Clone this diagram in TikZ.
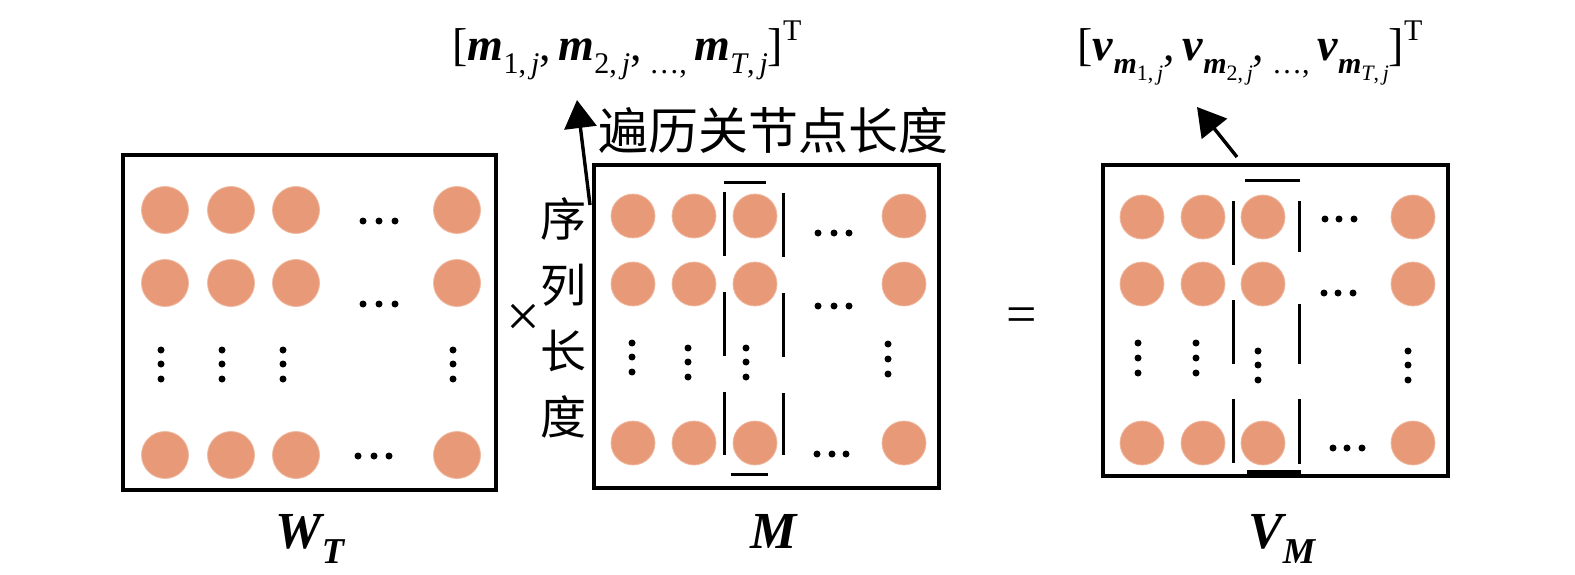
\documentclass[tikz,border=0pt]{standalone}
\usepackage{fontspec}
\setmainfont{Liberation Serif}
\newfontfamily\cjk{Noto Sans CJK SC}
\usetikzlibrary{arrows.meta}
\definecolor{salmon}{RGB}{232,154,120}
\definecolor{salmonedge}{RGB}{238,185,160}
\tikzset{
  ball/.style={circle, fill=salmon, draw=salmonedge, line width=0.8pt, inner sep=0pt, minimum size=#1},
  ball/.default=44pt,
  pip/.style={circle, fill=black, inner sep=0pt, minimum size=7pt},
  frame/.style={draw=black, line width=3.4pt},
  brk/.style={line width=3pt},
  arr/.style={line width=3.4pt, -{Triangle[width=32pt,length=28pt]}},
  bi/.style={font=\fontsize{52}{60}\selectfont\bfseries\itshape},
}
\newcommand{\bm}[1]{\textbf{\textit{#1}}}
\newcommand{\sub}[1]{\raisebox{-0.28em}{\fontsize{30}{30}\selectfont #1}}
\newcommand{\subsub}[1]{\raisebox{-0.22em}{\fontsize{22}{22}\selectfont #1}}
\begin{document}
\begin{tikzpicture}[x=1pt,y=-1pt]
\useasboundingbox (0,0) rectangle (1575,575);
% boxes
\draw[frame] (123,155) rectangle (496,490);
\draw[frame] (594,165) rectangle (939,488);
\draw[frame] (1103,165) rectangle (1448,476);
% ---- W_T
\foreach \x [count=\i] in {165,231,296,457}{
  \foreach \y [count=\j] in {210,283,455}{
    \node[ball=47pt] (w\i\j) at (\x,\y) {};
  }
}
\foreach \x in {161,222,283,453}{\foreach \y in {350,364,379}{\node[pip] at (\x,\y) {};}}
\foreach \x in {363,379,395}{\node[pip] at (\x,221) {}; \node[pip] at (\x,304) {};}
\foreach \x in {358,374,389}{\node[pip] at (\x,456) {};}
% ---- M
\foreach \x [count=\i] in {633,694,755,904}{
  \foreach \y [count=\j] in {216,284,443}{
    \node[ball] (m\i\j) at (\x,\y) {};
  }
}
\foreach \y in {343,357,372}{\node[pip] at (632,\y) {};}
\foreach \x in {688,746}{\foreach \y in {348,362,377}{\node[pip] at (\x,\y) {};}}
\foreach \y in {344,359,374}{\node[pip] at (888,\y) {};}
\foreach \x in {818,834,849}{\node[pip] at (\x,233) {}; \node[pip] at (\x,306) {};}
\foreach \x in {817,832,846}{\node[pip] at (\x,454) {};}
\draw[brk] (724,183) -- (766,183);
\draw[brk] (731,474) -- (768,474);
\foreach \a/\b in {192/256,292/356,392/455}{\draw[brk] (724,\a) -- (724,\b);}
\foreach \a/\b in {193/257,293/357,393/455}{\draw[brk] (783,\a) -- (783,\b);}
% ---- V_M
\foreach \x [count=\i] in {1142,1203,1263,1413}{
  \foreach \y [count=\j] in {217,284,443}{
    \node[ball] (v\i\j) at (\x,\y) {};
  }
}
\foreach \x in {1138,1196}{\foreach \y in {343,358,373}{\node[pip] at (\x,\y) {};}}
\foreach \x in {1258,1408}{\foreach \y in {351,365,380}{\node[pip] at (\x,\y) {};}}
\foreach \x in {1325,1339,1354}{\node[pip] at (\x,219) {};}
\foreach \x in {1324,1338,1353}{\node[pip] at (\x,293) {};}
\foreach \x in {1333,1347,1362}{\node[pip] at (\x,448) {};}
\draw[brk] (1245,181) -- (1300,181);
\draw[line width=4pt] (1247,472) -- (1301,472);
\foreach \a/\b in {201/265,300/364,399/463}{\draw[brk] (1233,\a) -- (1233,\b);}
\foreach \a/\b in {201/252,304/364,399/464}{\draw[brk] (1299,\a) -- (1299,\b);}
% ---- labels
\node[anchor=base, inner sep=0pt, font=\fontsize{46}{50}\selectfont] (ftop1) at (627,61)
 {[\bm{m}\sub{1,\,\textit{j}},\,\bm{m}\sub{2,\,\textit{j}},\,\sub{\dots,}\,\bm{m}\sub{\textit{T},\,\textit{j}}]\raisebox{0.45em}{\fontsize{30}{30}\selectfont T}};
\node[anchor=base, inner sep=0pt, font=\fontsize{46}{50}\selectfont] (ftop2) at (1250,61)
 {[\bm{v}\sub{\bm{m}\subsub{1,\,\textit{j}}},\,\bm{v}\sub{\bm{m}\subsub{2,\,\textit{j}}},\,\sub{\dots,}\,\bm{v}\sub{\bm{m}\subsub{\textit{T},\,\textit{j}}}]\raisebox{0.45em}{\fontsize{30}{30}\selectfont T}};
\node[anchor=west, inner sep=0pt, font=\cjk\fontsize{50}{50}\selectfont] (trav) at (598,130) {遍历关节点长度};
\node[align=center, inner sep=0pt, font=\cjk\fontsize{46}{66}\selectfont] (seq) at (563,318) {序\\列\\长\\度};
\node[inner sep=0pt, font=\fontsize{60}{60}\selectfont] (times) at (523,320) {×};
\node[inner sep=0pt, font=\fontsize{54}{54}\selectfont] (eq) at (1022,320) {=};
\node[anchor=base, inner sep=0pt, bi] (lw) at (310,548) {W\textsubscript{T}};
\node[anchor=base, inner sep=0pt, bi] (lm) at (774,548) {M};
\node[anchor=base, inner sep=0pt, bi] (lv) at (1282,548) {V\textsubscript{M}};
% arrows
\coordinate (a1s) at (590,205);
\coordinate (a1e) at (577,100);
\coordinate (a2s) at (1237,157);
\coordinate (a2e) at (1197,107);
\draw[arr] (a1s) -- (a1e);
\draw[arr] (a2s) -- (a2e);
\end{tikzpicture}
\end{document}
